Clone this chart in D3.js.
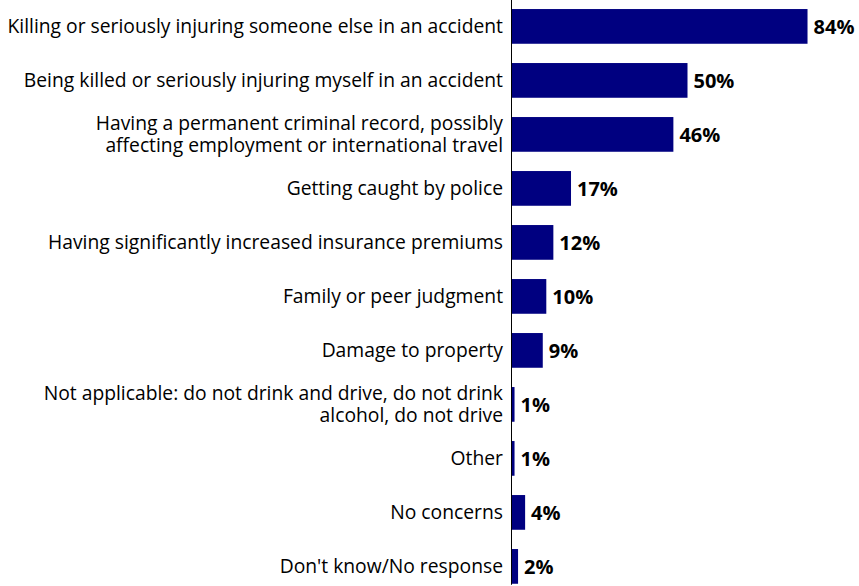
<!DOCTYPE html>
<html>
<head>
<meta charset="utf-8">
<script src="https://cdn.jsdelivr.net/npm/d3@7"></script>
<style>
  html, body { margin: 0; padding: 0; background: #fff; }
  svg { display: block; }
  .cat text { font-family: "Open Sans", Lato, sans-serif; font-size: 19.3px; fill: #000; }
  .val { font-family: "Open Sans", Lato, sans-serif; font-size: 20px; font-weight: bold; fill: #000; }
</style>
</head>
<body>
<svg id="chart" width="859" height="586"></svg>
<script>
// Concerns about drinking and driving (% of respondents)
const categories = [
  "Killing or seriously injuring someone else in an accident",
  "Being killed or seriously injuring myself in an accident",
  "Having a permanent criminal record, possibly\naffecting employment or international travel",
  "Getting caught by police",
  "Having significantly increased insurance premiums",
  "Family or peer judgment",
  "Damage to property",
  "Not applicable: do not drink and drive, do not drink\nalcohol, do not drive",
  "Other",
  "No concerns",
  "Don't know/No response"
];
const values = [84, 50, 46, 17, 12, 10, 9, 1, 1, 4, 2];

const width = 859, height = 586;
const axisX = 511;
const fontSize = 19.3;

const svg = d3.select("#chart");

const x = d3.scaleLinear().domain([0, 100]).range([axisX, axisX + 353]);
const y = d3.scaleBand()
  .domain(categories)
  .range([-0.6, 593.4])
  .paddingInner(0.357)
  .paddingOuter(0.1785);

// bars
svg.append("g")
  .selectAll("rect")
  .data(values)
  .join("rect")
  .attr("x", x(0))
  .attr("y", (d, i) => y(categories[i]))
  .attr("width", d => x(d) - x(0))
  .attr("height", y.bandwidth())
  .attr("fill", "#000080");

// value labels
svg.append("g")
  .selectAll("text")
  .data(values)
  .join("text")
  .attr("class", "val")
  .attr("x", d => x(d) + 6)
  .attr("y", (d, i) => y(categories[i]) + y.bandwidth() / 2)
  .attr("dy", "0.36em")
  .text(d => d + "%");

// category axis
const axis = svg.append("g")
  .attr("class", "cat")
  .attr("transform", `translate(${axisX},0)`)
  .call(d3.axisLeft(y).tickSize(0).tickPadding(8));

axis.select(".domain").remove();
axis.append("line")
  .attr("x1", 0.5).attr("x2", 0.5)
  .attr("y1", 0)
  .attr("y2", y(categories[categories.length - 1]) + y.bandwidth() + 1)
  .attr("stroke", "#000")
  .attr("stroke-width", 1);

// multi-line category labels
const lineH = 22.3;
axis.selectAll(".tick text").each(function(d) {
  const lines = d.split("\n");
  const t = d3.select(this).text(null).attr("dy", null);
  lines.forEach((ln, k) => {
    t.append("tspan")
      .attr("x", -8)
      .attr("dy", k === 0 ? `${0.35 * fontSize - (lines.length - 1) * lineH / 2}px` : `${lineH}px`)
      .text(ln);
  });
});
</script>
</body>
</html>
